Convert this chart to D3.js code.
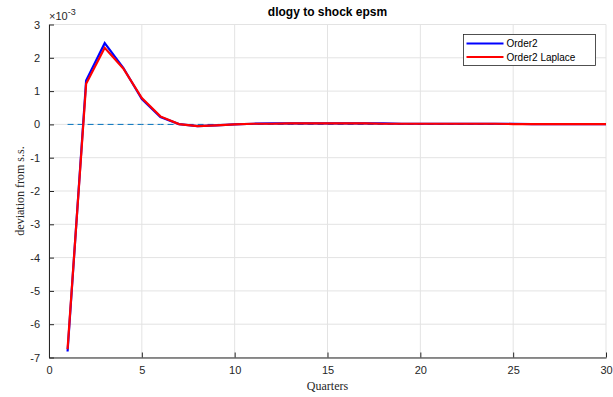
<!DOCTYPE html>
<html>
<head>
<meta charset="utf-8">
<script src="https://cdn.jsdelivr.net/npm/d3@7"></script>
<style>
body { margin: 0; background: #fff; }
text { font-family: "Liberation Sans", Arial, sans-serif; }
</style>
</head>
<body>
<div id="chart"></div>
<script>
// data (values in units of 1e-3)
var quarters = d3.range(1, 31);
var order2 = [-6.82, 1.32, 2.44, 1.70, 0.76, 0.22, 0.01, -0.05, -0.03, 0.00,
    0.02, 0.03, 0.03, 0.03, 0.03, 0.03, 0.03, 0.03, 0.02, 0.02,
    0.02, 0.02, 0.02, 0.02, 0.02, 0.01, 0.01, 0.01, 0.01, 0.01];
var order2Laplace = [-6.75, 1.22, 2.30, 1.68, 0.79, 0.24, 0.01, -0.05, -0.03, 0.00,
    0.02, 0.02, 0.03, 0.03, 0.03, 0.03, 0.03, 0.02, 0.02, 0.02,
    0.02, 0.02, 0.02, 0.02, 0.01, 0.01, 0.01, 0.01, 0.01, 0.01];
var steadyState = quarters.map(function () { return 0; });
var xTicks = [0, 5, 10, 15, 20, 25, 30];
var yTicks = [-7, -6, -5, -4, -3, -2, -1, 0, 1, 2, 3];
var seriesNames = ["Order2", "Order2 Laplace"];
var seriesColors = ["#0000ff", "#ff0000"];

var W = 613, H = 397;
var margin = {top: 24.5, right: 7, bottom: 39.5, left: 49};
var width = W - margin.left - margin.right;
var height = H - margin.top - margin.bottom;

var svg = d3.select("#chart")
    .append("svg")
    .attr("width", W)
    .attr("height", H)
    .append("g")
    .attr("transform", "translate(" + margin.left + "," + margin.top + ")");

var xscale = d3.scaleLinear().domain([0, 30]).range([0, width]);
var yscale = d3.scaleLinear().domain([-7, 3]).range([height, 0]);

// grid
svg.append("g").selectAll("line")
    .data(xTicks)
    .enter().append("line")
    .attr("x1", function (d) { return xscale(d); })
    .attr("x2", function (d) { return xscale(d); })
    .attr("y1", 0).attr("y2", height)
    .attr("stroke", "#e3e3e3");
svg.append("g").selectAll("line")
    .data(yTicks)
    .enter().append("line")
    .attr("y1", function (d) { return yscale(d); })
    .attr("y2", function (d) { return yscale(d); })
    .attr("x1", 0).attr("x2", width)
    .attr("stroke", "#e3e3e3");

// axes (plain hyphen for negatives, like matlab)
var plain = function (d) { return String(d); };
var xaxis = d3.axisBottom(xscale).tickValues(xTicks).tickFormat(plain)
    .tickSizeInner(-5).tickSizeOuter(0).tickPadding(9);
var gx = svg.append("g")
    .attr("transform", "translate(0," + height + ")")
    .call(xaxis);
var yaxis = d3.axisLeft(yscale).tickValues(yTicks).tickFormat(plain)
    .tickSizeInner(-5).tickSizeOuter(0).tickPadding(9);
var gy = svg.append("g").call(yaxis);
[gx, gy].forEach(function (g) {
    g.select(".domain").attr("stroke", "#262626");
    g.selectAll(".tick line").attr("stroke", "#262626");
    g.selectAll("text")
        .attr("fill", "#262626")
        .style("font-size", "11px")
        .style("font-family", "'Liberation Sans', Arial, sans-serif");
});

// steady state
var line = d3.line()
    .x(function (d, i) { return xscale(quarters[i]); })
    .y(function (d) { return yscale(d); });

svg.append("path")
    .datum(steadyState)
    .attr("d", line)
    .attr("fill", "none")
    .attr("stroke", "#0072bd")
    .attr("stroke-width", 1)
    .attr("stroke-dasharray", "6,4");

svg.append("path")
    .datum(order2)
    .attr("d", line)
    .attr("fill", "none")
    .attr("stroke", seriesColors[0])
    .attr("stroke-width", 2.2);

svg.append("path")
    .datum(order2Laplace)
    .attr("d", line)
    .attr("fill", "none")
    .attr("stroke", seriesColors[1])
    .attr("stroke-width", 2.2);

// exponent label
var expo = svg.append("text")
    .attr("x", 0)
    .attr("y", -5)
    .attr("fill", "#262626")
    .style("font-size", "11px");
expo.append("tspan").text("\u00d710");
expo.append("tspan").attr("dy", -5).style("font-size", "9px").text("-3");

// title
svg.append("text")
    .attr("x", width / 2)
    .attr("y", -9)
    .attr("text-anchor", "middle")
    .attr("fill", "#000")
    .style("font-size", "12px")
    .style("font-weight", "bold")
    .text("dlogy to shock epsm");

// axis labels
svg.append("text")
    .attr("x", width / 2)
    .attr("y", height + 32)
    .attr("text-anchor", "middle")
    .attr("fill", "#262626")
    .style("font-family", "'Liberation Serif', 'Times New Roman', serif")
    .style("font-size", "12px")
    .text("Quarters");

svg.append("text")
    .attr("transform", "rotate(-90)")
    .attr("x", -height / 2)
    .attr("y", -25)
    .attr("text-anchor", "middle")
    .attr("fill", "#262626")
    .style("font-family", "'Liberation Serif', 'Times New Roman', serif")
    .style("font-size", "12px")
    .text("deviation from s.s.");

// legend
var legend = svg.append("g")
    .attr("transform", "translate(" + (463.5 - margin.left) + "," + (34.5 - margin.top) + ")");
legend.append("rect")
    .attr("width", 132)
    .attr("height", 31)
    .attr("fill", "#fff")
    .attr("stroke", "#262626")
    .attr("stroke-width", 0.8);
seriesNames.forEach(function (name, i) {
    var yy = 9 + i * 13.5;
    legend.append("line")
        .attr("x1", 3).attr("x2", 40)
        .attr("y1", yy).attr("y2", yy)
        .attr("stroke", seriesColors[i])
        .attr("stroke-width", 2.2);
    legend.append("text")
        .attr("x", 43)
        .attr("y", yy + 3.5)
        .attr("fill", "#000")
        .style("font-size", "10px")
        .text(name);
});
</script>
</body>
</html>
